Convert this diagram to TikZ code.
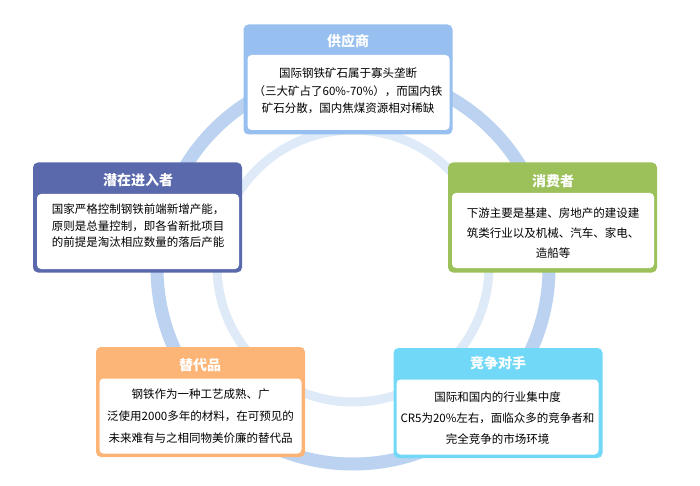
\documentclass[tikz,border=0pt]{standalone}
\usepackage{fontspec}
\newfontfamily\cjk{Noto Sans CJK SC}
\definecolor{ringout}{RGB}{187,210,241}
\definecolor{ringin}{RGB}{223,234,249}
\definecolor{csup}{RGB}{151,191,240}
\definecolor{cent}{RGB}{90,105,172}
\definecolor{ccon}{RGB}{156,193,91}
\definecolor{csub}{RGB}{253,180,119}
\definecolor{criv}{RGB}{114,216,247}
\tikzset{
  frame/.style={fill=#1, rounded corners=5pt, minimum width=209pt, minimum height=110pt, inner sep=0pt, draw=none},
  panel/.style={fill=white, rounded corners=4pt, minimum width=202pt, minimum height=75pt, inner sep=0pt, draw=none},
  ttl/.style={text=white, font=\cjk\bfseries\fontsize{14}{14}\selectfont, inner sep=0pt},
  body/.style={text=black, font=\cjk\fontsize{11.5}{#1}\selectfont, align=center, inner sep=0pt},
  ring/.style={draw=#1, fill=none}
}
\begin{document}
\begin{tikzpicture}[x=1pt,y=-1pt]
\useasboundingbox (0,0) rectangle (700,486);
\fill[white] (0,0) rectangle (700,486);
% rings
\draw[ring=ringout, line width=13pt] (353,268) circle (196pt);
\draw[ring=ringin, line width=9pt] (353,266) circle (136pt);
% supplier
\node[frame=csup] (supF) at (348,79.5) {};
\node[panel] (supP) at (348.5,92.5) {};
\node[ttl] (supT) at (348,41) {供应商};
\node[body=17.5] (supB) at (348,91) {国际钢铁矿石属于寡头垄断\\（三大矿占了60\%-70\%），而国内铁\\矿石分散，国内焦煤资源相对稀缺};
% entrant
\node[frame=cent] (entF) at (137.5,217.5) {};
\node[panel] (entP) at (138,231.5) {};
\node[ttl] (entT) at (138,180) {潜在进入者};
\node[body=16.5] (entB) at (138,226) {国家严格控制钢铁前端新增产能，\\原则是总量控制，即各省新批项目\\的前提是淘汰相应数量的落后产能};
% consumer
\node[frame=ccon] (conF) at (552.5,217.5) {};
\node[panel] (conP) at (553,230.5) {};
\node[ttl] (conT) at (553,181) {消费者};
\node[body=20] (conB) at (553,233) {下游主要是基建、房地产的建设建\\筑类行业以及机械、汽车、家电、\\造船等};
% substitute
\node[frame=csub] (subF) at (200.5,402) {};
\node[panel] (subP) at (200.5,416) {};
\node[ttl] (subT) at (200,365) {替代品};
\node[body=22] (subB) at (200.5,416) {钢铁作为一种工艺成熟、广\\泛使用2000多年的材料，在可预见的\\未来难有与之相同物美价廉的替代品};
% rival
\node[frame=criv] (rivF) at (498,403) {};
\node[panel] (rivP) at (497.5,417) {};
\node[ttl] (rivT) at (498,363) {竞争对手};
\node[body=21] (rivB) at (497.5,418) {国际和国内的行业集中度\\CR5为20\%左右，面临众多的竞争者和\\完全竞争的市场环境};
\end{tikzpicture}
\end{document}
